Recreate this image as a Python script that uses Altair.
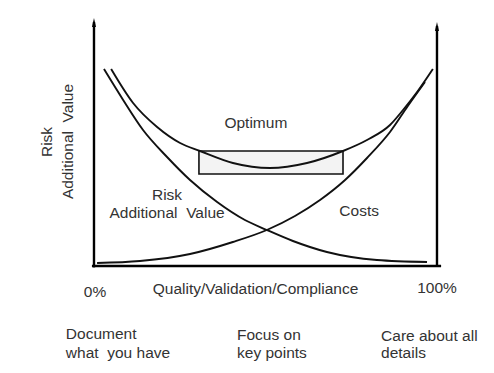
import altair as alt
import pandas as pd

# ---- curve data (x = quality %, y = relative value) ----
risk_x = [2.9, 8.5, 14.3, 21.3, 28.0, 35.9, 44.0, 50.4, 58.0, 67.9, 82.5, 97.1]
risk_y = [98.5, 83, 68, 54.5, 43, 32, 23, 18, 12.5, 7, 3, 2]

cost_x = [0.9, 13.4, 28.0, 40.5, 50.4, 58.6, 65.9, 73.2, 79.6, 86.3, 91.5, 96.5]
cost_y = [1.5, 2.5, 6, 12, 18, 25, 33, 43, 54, 67, 80, 92]

sum_x = [5.0, 11.4, 18.4, 25.1, 30.9, 40.5, 51.3, 62.1, 72.6, 79.6, 86.3, 90.1, 94.2, 98.8]
sum_y = [98.5, 81.5, 69.5, 61.5, 57.5, 51.5, 49, 51.5, 57.5, 63, 70.5, 78, 87, 98.5]

# optimum box
box_x = [30.6]
box_x2 = [72.6]
box_y = [46]
box_y2 = [57.5]

# axes (left, right, bottom)
axis_x = [0, 100, -0.6]
axis_x2 = [0, 100, 101.2]
axis_y = [-0.7, 0, 0]
axis_y2 = [122, 120, 0]
arrow_x = [0, 100]
arrow_y = [121.75, 119.75]

NB = "\u00a0"
# labels
center_texts = ["Optimum", "Risk", "Additional" + NB + " Value", "Costs", "0%",
                "Quality/Validation/Compliance", "100%"]
center_x = [47.2, 21.3, 21.3, 77.3, 0.3, 47.1, 100]
center_y = [71.5, 35.5, 26.5, 27.5, -13, -11.5, -10.75]

left_texts = ["Document", "what" + NB + " you have", "Focus on", "key points", "Care about all", "details"]
left_x = [-8.2, -8.2, 41.7, 41.7, 83.7, 83.7]
left_y = [-34, -43.25, -34.5, -43.5, -35, -43.5]

rot_texts = ["Risk", "Additional" + NB + " Value"]
rot_x = [-13.6, -7.7]
rot_y = [62, 62.25]

# ---- build tables ----
rows = []
for name, xs, ys in [("risk", risk_x, risk_y), ("cost", cost_x, cost_y), ("sum", sum_x, sum_y)]:
    for i, (a, b) in enumerate(zip(xs, ys)):
        rows.append({"series": name, "i": i, "x": a, "y": b})
curves = pd.DataFrame(rows)

X = alt.Scale(domain=[-25.07, 114.29], nice=False, zero=False)
Y = alt.Scale(domain=[-49.5, 129], nice=False, zero=False)
FONT = "Liberation Sans"
TXT = "#333333"
FS = 15.5

box = alt.Chart(pd.DataFrame({"x": box_x, "x2": box_x2, "y": box_y, "y2": box_y2})).mark_rect(
    fill="#f3f3f3", stroke="#111111", strokeWidth=1.6
).encode(
    x=alt.X("x:Q", scale=X, axis=None), x2="x2:Q",
    y=alt.Y("y:Q", scale=Y, axis=None), y2="y2:Q",
)

lines = alt.Chart(curves).mark_line(
    color="#111111", strokeWidth=1.9, interpolate="monotone"
).encode(
    x=alt.X("x:Q", scale=X, axis=None),
    y=alt.Y("y:Q", scale=Y, axis=None),
    detail="series:N",
    order="i:Q",
)

axes = alt.Chart(pd.DataFrame({"x": axis_x, "x2": axis_x2, "y": axis_y, "y2": axis_y2})).mark_rule(
    color="#000000", strokeWidth=2.4
).encode(
    x=alt.X("x:Q", scale=X, axis=None), x2="x2:Q",
    y=alt.Y("y:Q", scale=Y, axis=None), y2="y2:Q",
)

arrows = alt.Chart(pd.DataFrame({"x": arrow_x, "y": arrow_y})).mark_point(
    shape="M0,-1L0.45,1L-0.45,1Z", filled=True, fill="#000000",
    size=81, opacity=1
).encode(
    x=alt.X("x:Q", scale=X, axis=None),
    y=alt.Y("y:Q", scale=Y, axis=None),
)

t_center = alt.Chart(pd.DataFrame({"t": center_texts, "x": center_x, "y": center_y})).mark_text(
    font=FONT, fontSize=FS, color=TXT, align="center", baseline="middle"
).encode(
    x=alt.X("x:Q", scale=X, axis=None),
    y=alt.Y("y:Q", scale=Y, axis=None),
    text="t:N",
)

t_left = alt.Chart(pd.DataFrame({"t": left_texts, "x": left_x, "y": left_y})).mark_text(
    font=FONT, fontSize=FS, color=TXT, align="left", baseline="middle"
).encode(
    x=alt.X("x:Q", scale=X, axis=None),
    y=alt.Y("y:Q", scale=Y, axis=None),
    text="t:N",
)

t_rot = alt.Chart(pd.DataFrame({"t": rot_texts, "x": rot_x, "y": rot_y})).mark_text(
    font=FONT, fontSize=FS, color=TXT, align="center", baseline="middle", angle=270
).encode(
    x=alt.X("x:Q", scale=X, axis=None),
    y=alt.Y("y:Q", scale=Y, axis=None),
    text="t:N",
)

chart = alt.layer(box, lines, axes, arrows, t_center, t_left, t_rot).properties(
    width=478, height=357, padding=0, autosize="none", background="white"
).configure_view(stroke=None)

chart.save("out.html", embed_options={"renderer": "svg", "actions": False})
